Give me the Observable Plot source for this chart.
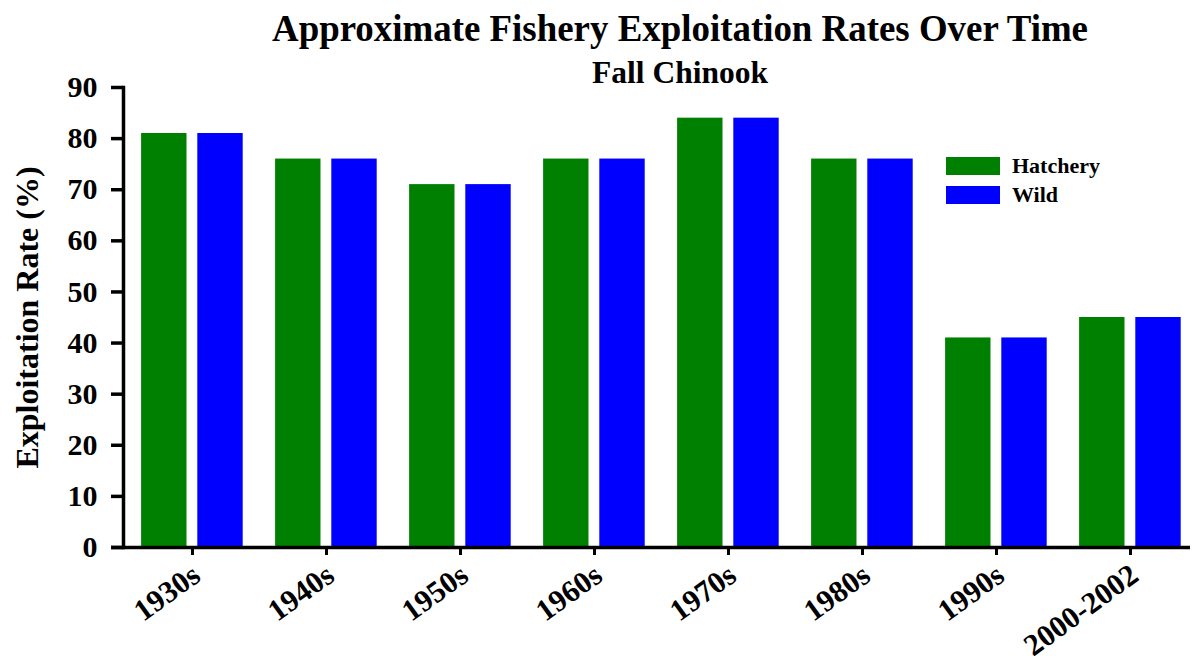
<!DOCTYPE html>
<html>
<head>
<meta charset="utf-8">
<script src="https://cdn.jsdelivr.net/npm/d3@7"></script>
<script src="https://cdn.jsdelivr.net/npm/@observablehq/plot@0.6"></script>
<style>
  html, body { margin: 0; padding: 0; background: #fff; }
  #wrap { position: relative; width: 1193px; height: 663px; font-family: "Liberation Serif", "Times New Roman", serif; font-weight: bold; color: #000; }
  .title, .subtitle { position: absolute; left: 167px; width: 1026px; text-align: center; line-height: 1; white-space: nowrap; }
  .title { top: 11px; font-size: 36.9px; }
  .subtitle { top: 57px; font-size: 31.5px; }
  .legend-item { position: absolute; left: 946px; height: 18px; }
  .legend-item .sw { position: absolute; left: 0; top: 0; width: 54px; height: 18px; }
  .legend-item .lbl { position: absolute; left: 66px; top: -2px; font-size: 22px; line-height: 1; white-space: nowrap; }
  #chart { position: absolute; left: 0; top: 0; }
</style>
</head>
<body>
<div id="wrap">
  <div id="chart"></div>
  <div class="title">Approximate Fishery Exploitation Rates Over Time</div>
  <div class="subtitle">Fall Chinook</div>
  <div id="legend"></div>
</div>
<script>
// Decades (categories) and exploitation rates (%) per stock type
const decades = ["1930s", "1940s", "1950s", "1960s", "1970s", "1980s", "1990s", "2000-2002"];
const hatchery = [81, 76, 71, 76, 84, 76, 41, 45];
const wild = [81, 76, 71, 76, 84, 76, 41, 45];
const seriesNames = ["Hatchery", "Wild"];
const seriesColors = ["#008000", "#0000ff"];
const yTicks = [0, 10, 20, 30, 40, 50, 60, 70, 80, 90];
const yLabel = "Exploitation Rate (%)";

const hatcheryRows = decades.map((d, i) => ({decade: d, value: hatchery[i]}));
const wildRows = decades.map((d, i) => ({decade: d, value: wild[i]}));

const barInset = 44.3;

const chart = Plot.plot({
  width: 1193,
  height: 663,
  marginTop: 87,
  marginBottom: 116,
  marginLeft: 123,
  marginRight: 0,
  style: {fontFamily: "'Liberation Serif', 'Times New Roman', serif", fontWeight: "bold", color: "#000", background: "transparent"},
  x: {type: "band", domain: decades, range: [122.7, 1199.5], padding: 0},
  y: {domain: [0, 90]},
  marks: [
    Plot.barY(hatcheryRows, {x: "decade", y: "value", fill: seriesColors[0], insetLeft: barInset, insetRight: barInset, dx: -28.2}),
    Plot.barY(wildRows, {x: "decade", y: "value", fill: seriesColors[1], insetLeft: barInset, insetRight: barInset, dx: 28}),
    Plot.axisY({ticks: yTicks, tickSize: 12, tickPadding: 14, fontSize: 30, strokeWidth: 3.5, label: null}),
    Plot.axisX({tickSize: 8, tickFormat: () => "", strokeWidth: 3, label: null}),
    Plot.text(decades, {x: d => d, frameAnchor: "bottom", rotate: -36, textAnchor: "end", lineAnchor: "middle", dx: 4, dy: 24, fontSize: 30.5, fill: "#000"}),
    Plot.text([yLabel], {frameAnchor: "left", rotate: -90, textAnchor: "middle", lineAnchor: "bottom", dx: -86, fontSize: 32, fill: "#000"}),
    Plot.frame({anchor: "left", strokeWidth: 3.5}),
    Plot.ruleY([0], {strokeWidth: 3.5, insetLeft: -12, insetRight: 3})
  ]
});
document.getElementById("chart").appendChild(chart);

// Legend
const legend = document.getElementById("legend");
seriesNames.forEach((name, i) => {
  const item = document.createElement("div");
  item.className = "legend-item";
  item.style.top = (157 + i * 29) + "px";
  item.innerHTML = `<div class="sw" style="background:${seriesColors[i]}"></div><div class="lbl">${name}</div>`;
  legend.appendChild(item);
});
</script>
</body>
</html>
